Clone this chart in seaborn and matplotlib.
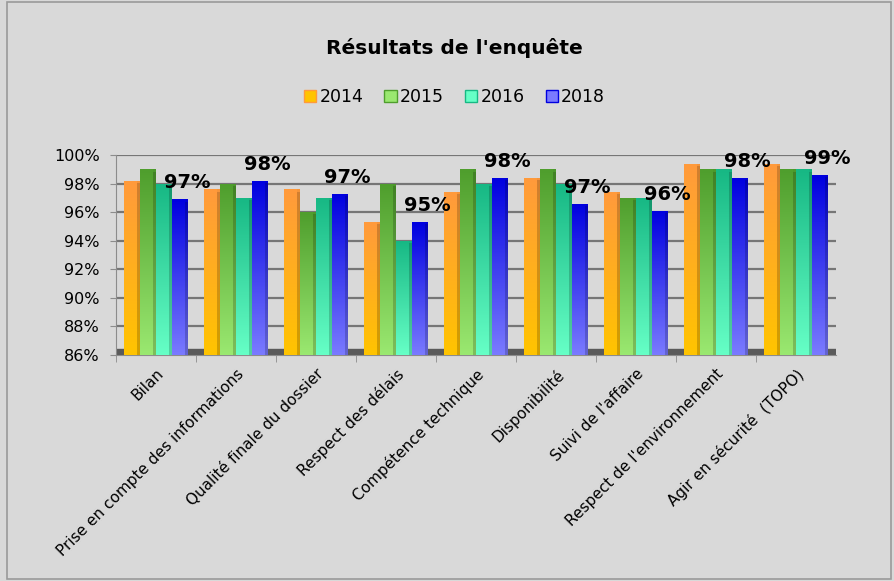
import numpy as np
import pandas as pd
import matplotlib
matplotlib.use('Agg')
import matplotlib.pyplot as plt
import seaborn as sns
from matplotlib.colors import LinearSegmentedColormap
from matplotlib.patches import Patch, Rectangle

# data
categories = ["Bilan", "Prise en compte des informations", "Qualité finale du dossier",
              "Respect des délais", "Compétence technique", "Disponibilité",
              "Suivi de l'affaire", "Respect de l'environnement", "Agir en sécurité  (TOPO)"]
years = ["2014", "2015", "2016", "2018"]
v2014 = [98.2, 97.6, 97.6, 95.3, 97.4, 98.4, 97.4, 99.4, 99.4]
v2015 = [99.0, 98.0, 96.0, 98.0, 99.0, 99.0, 97.0, 99.0, 99.0]
v2016 = [98.0, 97.0, 97.0, 94.0, 98.0, 98.0, 97.0, 99.0, 99.0]
v2018 = [96.9, 98.2, 97.3, 95.3, 98.4, 96.6, 96.1, 98.4, 98.6]
labels_2018 = ["97%", "98%", "97%", "95%", "98%", "97%", "96%", "98%", "99%"]

# gradient colours (top, bottom) per year
grad = {
    "2014": ("#ff9a3c", "#ffc400"),
    "2015": ("#4f9e2d", "#9ae870"),
    "2016": ("#17b884", "#66ffc6"),
    "2018": ("#0000e0", "#7a7aff"),
}

rows = []
for yr, vals in zip(years, [v2014, v2015, v2016, v2018]):
    for c, v in zip(categories, vals):
        rows.append({"cat": c, "year": yr, "value": v})
df = pd.DataFrame(rows)

bg = "#d9d9d9"
fig = plt.figure(figsize=(8.95, 5.81), dpi=100, facecolor=bg)
ax = fig.add_axes([0.130, 0.389, 0.804, 0.344])
ax.set_facecolor(bg)

sns.barplot(data=df, x="cat", y="value", hue="year", ax=ax, width=0.8,
            palette=[grad[y][1] for y in years], legend=False, zorder=3)

ymin, ymax = 86, 100
ax.set_ylim(ymin, ymax)
ax.set_yticks(np.arange(86, 101, 2))
ax.set_yticklabels([f"{t}%" for t in range(86, 101, 2)], fontsize=11.5)
ax.grid(axis="y", color="#767676", linewidth=1.6, zorder=0)
ax.set_axisbelow(True)
for s in ["top", "right"]:
    ax.spines[s].set_visible(False)
ax.spines["left"].set_color("#8c8c8c")
ax.spines["bottom"].set_color("#8c8c8c")
ax.tick_params(axis="y", length=4, color="#8c8c8c", pad=8)
ax.set_xlabel("")
ax.set_ylabel("")

# floor
ax.axhspan(ymin, ymin + 0.45, color="#5a5a5a", zorder=1)

# gradient fill for each bar
for yr, cont in zip(years, ax.containers):
    cmap = LinearSegmentedColormap.from_list("g" + yr, [grad[yr][1], grad[yr][0]])
    for bar in cont:
        x0, y0 = bar.get_x(), ymin
        w, h = bar.get_width(), bar.get_height()
        top = bar.get_y() + h
        bar.set_facecolor("none")
        bar.set_edgecolor("none")
        img = ax.imshow(np.linspace(0, 1, 100).reshape(-1, 1), cmap=cmap, aspect="auto",
                        extent=[x0, x0 + w, y0, top], origin="lower", zorder=3)
        img.set_clip_path(bar)
        # darker right side and a top cap for a bit of depth
        ax.add_patch(Rectangle((x0 + w * 0.82, y0), w * 0.18, top - y0,
                               facecolor="black", alpha=0.18, zorder=4, linewidth=0))
        ax.add_patch(Rectangle((x0, top - 0.15), w, 0.15,
                               facecolor=grad[yr][0], alpha=0.8, zorder=4, linewidth=0))

ax.set_xlim(-0.5, len(categories) - 0.5)
ax.set_xticks(np.arange(len(categories)) - 0.5, minor=True)
ax.set_xticks(np.arange(len(categories)))
ax.set_xticklabels(categories, rotation=45, ha="right", rotation_mode="anchor", fontsize=11)
ax.tick_params(axis="x", which="major", length=0, pad=8)
ax.tick_params(axis="x", which="minor", length=5, color="#8c8c8c")

# value labels above 2018 bars
for bar, lab in zip(ax.containers[3], labels_2018):
    ax.text(bar.get_x() + bar.get_width() * 0.95, bar.get_y() + bar.get_height() + 0.5, lab,
            ha="center", va="bottom", fontsize=14, fontweight="bold", zorder=6, clip_on=False)

fig.text(0.508, 0.918, "Résultats de l'enquête", ha="center", va="center",
         fontsize=14.5, fontweight="bold")
handles = [Patch(facecolor=grad[y][1], edgecolor=grad[y][0], label=y) for y in years]
fig.legend(handles=handles, loc="center", bbox_to_anchor=(0.508, 0.833), ncol=4,
           frameon=False, fontsize=12.5, handlelength=0.7, handleheight=0.7,
           handletextpad=0.2, columnspacing=1.2)

fig.add_artist(Rectangle((0.008, 0.004), 0.988, 0.992, transform=fig.transFigure,
                         fill=False, edgecolor="#9a9a9a", linewidth=1.2))

fig.savefig("out.png", dpi=100, facecolor=bg)
